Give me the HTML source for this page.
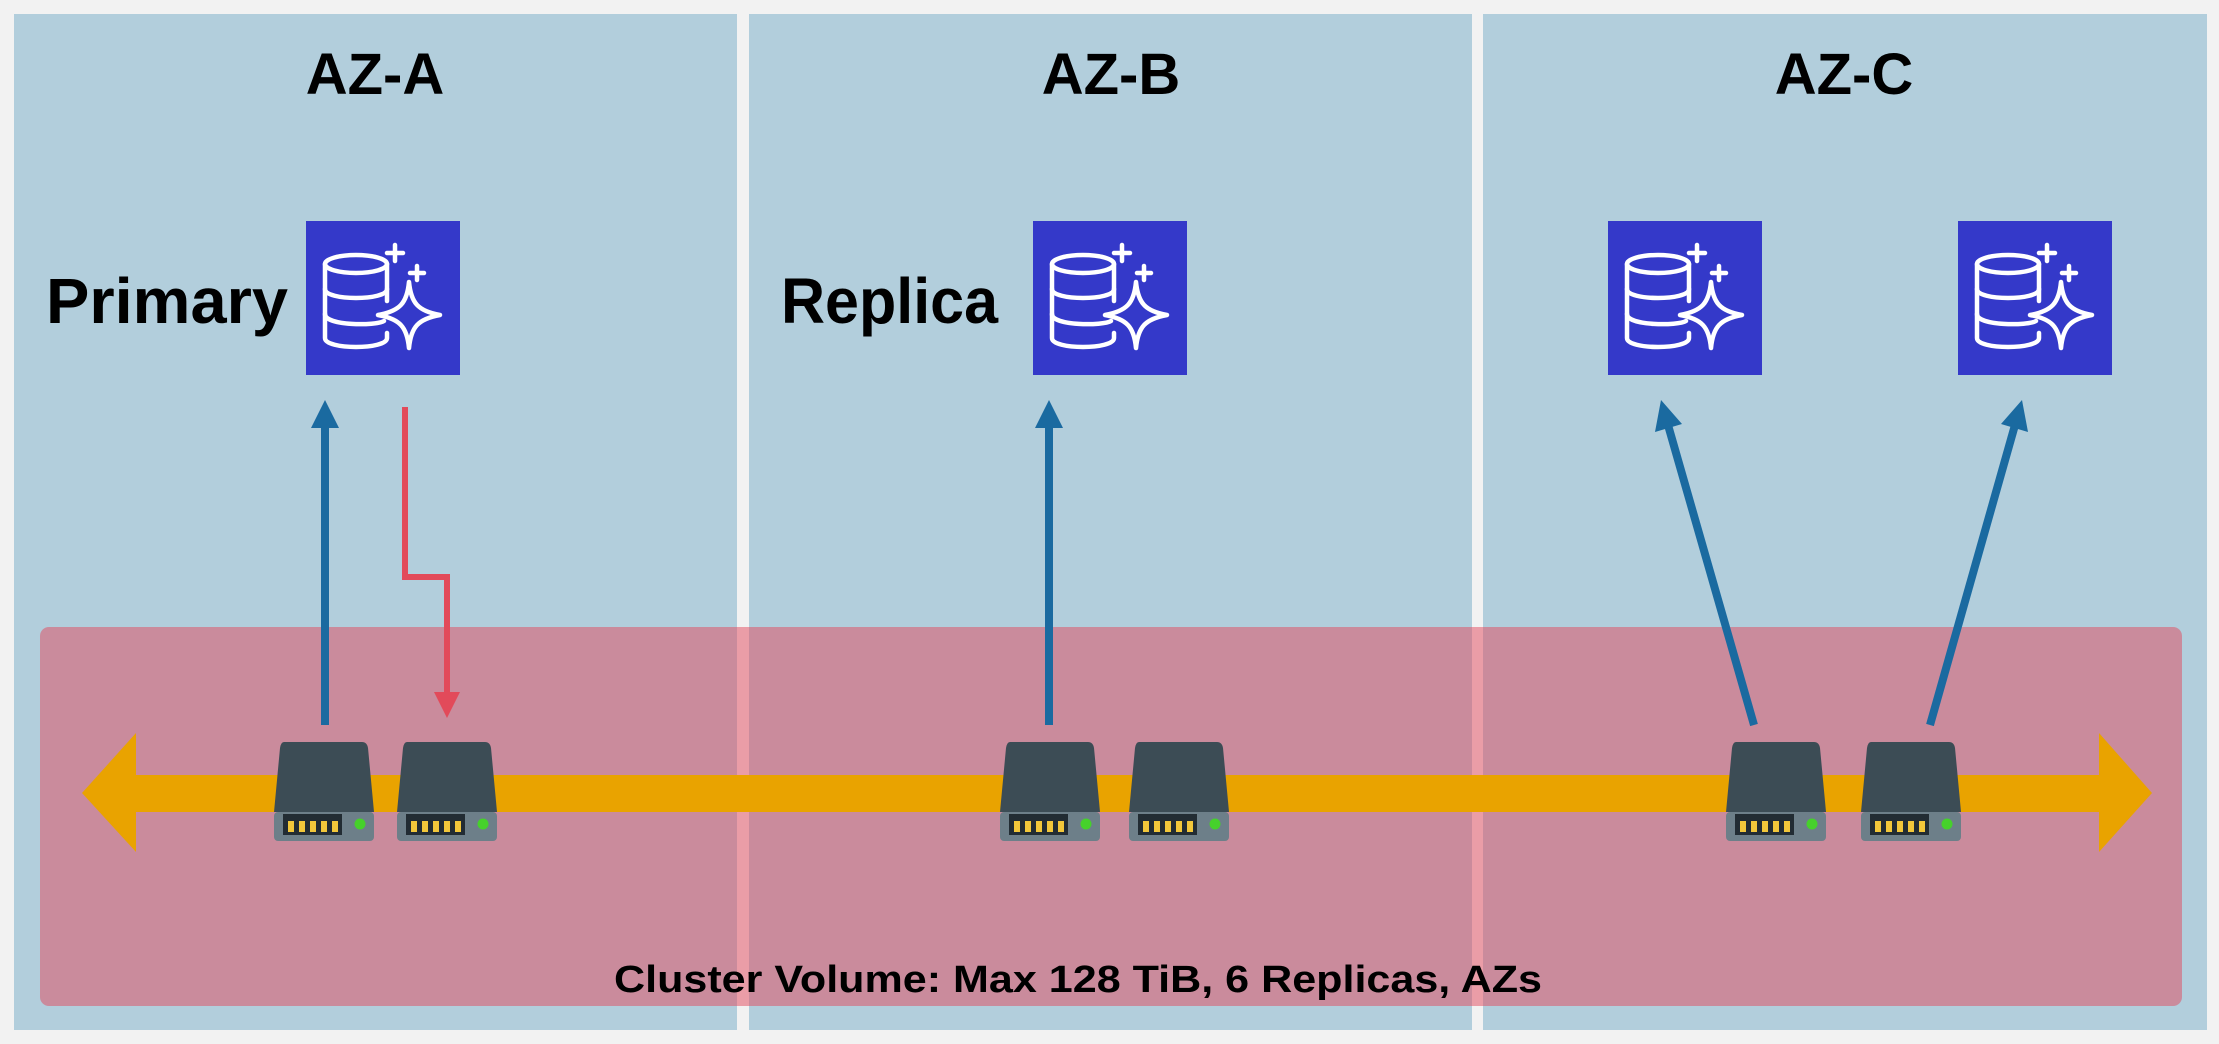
<!DOCTYPE html>
<html><head><meta charset="utf-8"><style>
html,body{margin:0;padding:0;background:#f2f2f2;}
svg{display:block;}
text{font-family:"Liberation Sans",sans-serif;font-weight:bold;fill:#000;}
</style></head><body>
<svg width="2219" height="1044" viewBox="0 0 2219 1044" xmlns="http://www.w3.org/2000/svg">
<defs>
<g id="db">
<rect x="0" y="0" width="154" height="154" fill="#3439c9"/>
<g fill="none" stroke="#fff" stroke-width="4.5" stroke-linecap="round" stroke-linejoin="round">
<ellipse cx="50" cy="43" rx="31" ry="9"/>
<path d="M19 43 V117 C19 129 81 129 81 117 V112"/>
<path d="M19 68 C19 80 81 80 81 68"/>
<path d="M19 93 C19 105 70 105 78 100"/>
<path d="M81 43 V80"/>
<path d="M103 61 C101 82 94 90 72 94 C94 98 101 106 103 127 C105 106 112 98 134 94 C112 90 105 82 103 61 Z"/>
<path d="M89 24 V40 M81 32 H97"/>
<path d="M111 45 V59 M104 52 H118"/>
</g>
</g>
<g id="disk">
<path d="M10 0 H88 Q93 0 94 6 L100 70 H0 L6 6 Q7 0 10 0 Z" fill="#3c4c55"/>
<rect x="0" y="70" width="100" height="29" rx="4" fill="#6d7f89"/>
<rect x="9" y="72" width="59" height="21" fill="#222c33"/>
<g fill="#f2c73a">
<rect x="14" y="79" width="6" height="11"/><rect x="25" y="79" width="6" height="11"/><rect x="36" y="79" width="6" height="11"/><rect x="47" y="79" width="6" height="11"/><rect x="58" y="79" width="6" height="11"/>
</g>
<circle cx="86" cy="82" r="5.5" fill="#46d12b"/>
</g>
</defs>
<rect width="2219" height="1044" fill="#f2f2f2"/>
<rect x="14" y="14" width="723" height="1016" fill="#b2cedc"/>
<rect x="749" y="14" width="723" height="1016" fill="#b2cedc"/>
<rect x="1483" y="14" width="724" height="1016" fill="#b2cedc"/>
<text x="375" y="94" font-size="58" text-anchor="middle">AZ-A</text>
<text x="1111" y="94" font-size="58" text-anchor="middle">AZ-B</text>
<text x="1844" y="94" font-size="58" text-anchor="middle">AZ-C</text>
<text x="46" y="323" font-size="64" textLength="242" lengthAdjust="spacingAndGlyphs">Primary</text>
<text x="781" y="323" font-size="64" textLength="217" lengthAdjust="spacingAndGlyphs">Replica</text>
<use href="#db" x="306" y="221"/>
<use href="#db" x="1033" y="221"/>
<use href="#db" x="1608" y="221"/>
<use href="#db" x="1958" y="221"/>
<rect x="40" y="627" width="2142" height="379" rx="9" fill="rgb(226,71,91)" fill-opacity="0.5"/>
<path d="M82 793 L136 733 V775 H2099 V733 L2152 793 L2099 852 V812 H136 V852 Z" fill="#e9a300"/>
<use href="#disk" x="274" y="742"/>
<use href="#disk" x="397" y="742"/>
<use href="#disk" x="1000" y="742"/>
<use href="#disk" x="1129" y="742"/>
<use href="#disk" x="1726" y="742"/>
<use href="#disk" x="1861" y="742"/>
<g stroke="#1a6aa0" stroke-width="8" fill="none">
<line x1="325" y1="725" x2="325" y2="425"/>
<line x1="1049" y1="725" x2="1049" y2="425"/>
<line x1="1754" y1="725" x2="1668" y2="425"/>
<line x1="1930" y1="725" x2="2015" y2="425"/>
</g>
<g fill="#1a6aa0">
<path d="M325 400 L311 428 H339 Z"/>
<path d="M1049 400 L1035 428 H1063 Z"/>
<path d="M1661 400 L1655 432 L1682 424 Z"/>
<path d="M2022 400 L2001 424 L2028 432 Z"/>
</g>
<path d="M405 407 V577 H447 V695" stroke="#e24a5a" stroke-width="6" fill="none"/>
<path d="M447 718 L434 692 H460 Z" fill="#e24a5a"/>
<text x="1078" y="992" font-size="38" text-anchor="middle" textLength="928" lengthAdjust="spacingAndGlyphs">Cluster Volume: Max 128 TiB, 6 Replicas, AZs</text>
</svg>
</body></html>
